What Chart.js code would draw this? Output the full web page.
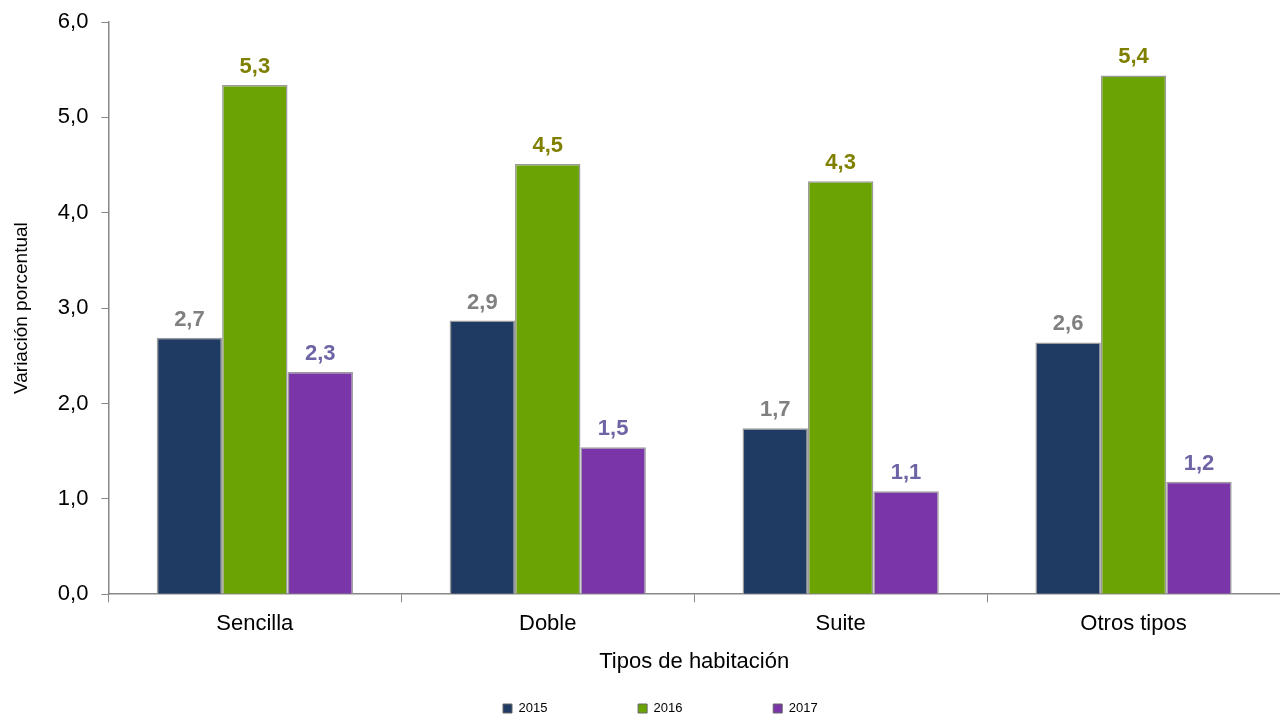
<!DOCTYPE html>
<html>
<head>
<meta charset="utf-8">
<script src="https://cdn.jsdelivr.net/npm/chart.js@4"></script>
<style>
  html, body { margin: 0; padding: 0; background: #fff; }
  #wrap { width: 1280px; height: 715px; position: relative; }
</style>
</head>
<body>
<div id="wrap"><canvas id="chart"></canvas></div>
<script>
// categories and series
const categories = ['Sencilla', 'Doble', 'Suite', 'Otros tipos'];
const years = ['2015', '2016', '2017'];
const values2015 = [2.69, 2.87, 1.74, 2.64];
const values2016 = [5.34, 4.51, 4.33, 5.44];
const values2017 = [2.33, 1.54, 1.08, 1.18];

const barColors = ['#1F3B63', '#6CA304', '#7A36A8'];
const labelColors = ['#808080', '#808000', '#6C64A4'];
const FONT = '"Liberation Sans", Arial, sans-serif';

const fmt = v => v.toFixed(1).replace('.', ',');

// draws the value above each bar (no datalabels plugin available)
const valueLabels = {
    id: 'valueLabels',
    afterDatasetsDraw(chart) {
        const ctx = chart.ctx;
        ctx.save();
        ctx.font = 'bold 22px ' + FONT;
        ctx.textAlign = 'center';
        ctx.textBaseline = 'bottom';
        chart.data.datasets.forEach((ds, i) => {
            const meta = chart.getDatasetMeta(i);
            ctx.fillStyle = labelColors[i];
            meta.data.forEach((bar, j) => {
                ctx.fillText(fmt(ds.data[j]), bar.x, bar.y - 7);
            });
        });
        ctx.restore();
    }
};

// nudge the legend row to where the original sits (bottom, a bit right of centre)
const legendNudge = {
    id: 'legendNudge',
    afterLayout(chart) {
        const lg = chart.legend;
        if (!lg || !lg.lineWidths) return;
        const pad = lg.options.labels.padding;
        const start = (lg.left + pad + lg.right - lg.lineWidths[0]) / 2;
        const dx = 503 - start;
        lg.left += dx; lg.right += dx;
        const dy = 702 - (lg.top + pad);
        lg.top += dy; lg.bottom += dy;
    }
};

const seriesValues = [values2015, values2016, values2017];
const gap = ' '.repeat(24);

new Chart(document.getElementById('chart').getContext('2d'), {
    type: 'bar',
    data: {
        labels: categories,
        datasets: years.map((y, i) => ({
            label: y,
            data: seriesValues[i],
            backgroundColor: barColors[i],
            borderColor: '#9A9A9A',
            borderWidth: 1.5,
            categoryPercentage: 0.67,
            barPercentage: 1.0
        }))
    },
    options: {
        responsive: true,
        maintainAspectRatio: false,
        animation: false,
        devicePixelRatio: 1,
        layout: { padding: { top: 0, right: 0, left: 10, bottom: 0 } },
        plugins: {
            tooltip: { enabled: false },
            legend: {
                position: 'bottom',
                labels: {
                    color: '#000',
                    font: { family: FONT, size: 13 },
                    boxWidth: 9,
                    boxHeight: 9,
                    padding: 4,
                    generateLabels(chart) {
                        return chart.data.datasets.map((ds, i) => ({
                            text: ds.label + gap,
                            fillStyle: barColors[i],
                            strokeStyle: '#666',
                            lineWidth: 1,
                            datasetIndex: i
                        }));
                    }
                }
            }
        },
        scales: {
            x: {
                grid: {
                    display: true,
                    drawOnChartArea: false,
                    drawTicks: true,
                    tickLength: 8,
                    color: '#888',
                    offset: true
                },
                border: { color: '#888', width: 1.5 },
                ticks: {
                    color: '#000',
                    font: { family: FONT, size: 22 },
                    padding: 9
                },
                title: {
                    display: true,
                    text: 'Tipos de habitación',
                    color: '#000',
                    font: { family: FONT, size: 22 },
                    padding: { top: 2, bottom: 13 }
                }
            },
            y: {
                min: 0,
                max: 6,
                afterFit: scale => { scale.paddingTop = 22; },
                grid: {
                    display: true,
                    drawOnChartArea: false,
                    drawTicks: true,
                    tickLength: 7,
                    color: '#888'
                },
                border: { color: '#888', width: 1.5 },
                ticks: {
                    stepSize: 1,
                    color: '#000',
                    font: { family: FONT, size: 22 },
                    padding: 13,
                    callback: v => fmt(v)
                },
                title: {
                    display: true,
                    text: 'Variación porcentual',
                    color: '#000',
                    font: { family: FONT, size: 19 },
                    padding: { top: 0, bottom: 12 }
                }
            }
        }
    },
    plugins: [valueLabels, legendNudge]
});
</script>
</body>
</html>
